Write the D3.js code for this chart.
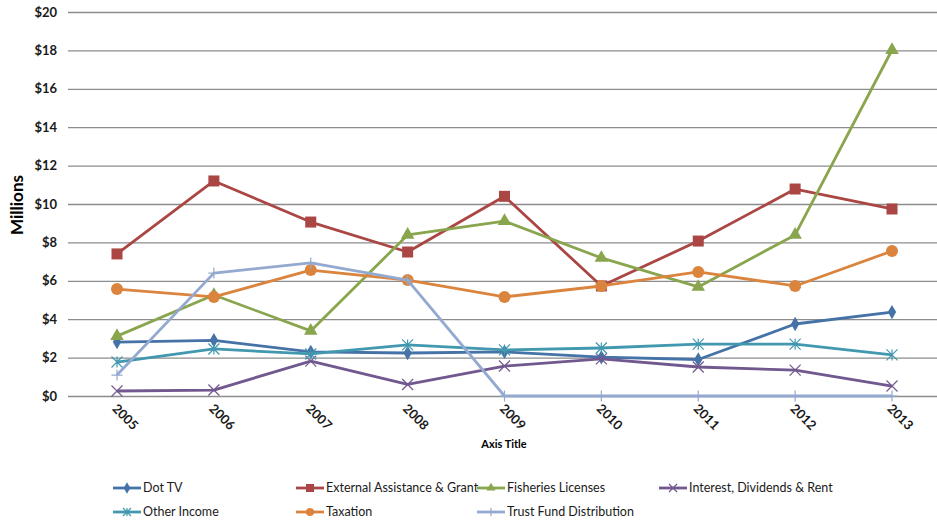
<!DOCTYPE html>
<html>
<head>
<meta charset="utf-8">
<script src="https://cdn.jsdelivr.net/npm/d3@7"></script>
<style>
  body { margin: 0; background: #fff; }
  svg { display: block; font-family: Lato, "Open Sans", sans-serif; }
</style>
</head>
<body>
<div class="content"></div>
<script>
const years = ['2005', '2006', '2007', '2008', '2009', '2010', '2011', '2012', '2013'];
const yTicks = [0, 2, 4, 6, 8, 10, 12, 14, 16, 18, 20];

const dotTV      = [2.81, 2.90, 2.30, 2.24, 2.30, 2.02, 1.90, 3.75, 4.37];
const external   = [7.40, 11.20, 9.06, 7.50, 10.40, 5.73, 8.07, 10.78, 9.74];
const fisheries  = [3.12, 5.26, 3.39, 8.39, 9.11, 7.19, 5.68, 8.39, 18.02];
const interest   = [0.26, 0.31, 1.82, 0.60, 1.56, 1.93, 1.51, 1.35, 0.52];
const otherInc   = [1.77, 2.45, 2.19, 2.66, 2.40, 2.50, 2.70, 2.70, 2.14];
const taxation   = [5.57, 5.16, 6.56, 6.04, 5.16, 5.73, 6.46, 5.73, 7.55];
const trustFund  = [1.09, 6.40, 6.93, 6.04, 0, 0, 0, 0, 0];

const seriesNames = ['Dot TV', 'External Assistance & Grant', 'Fisheries Licenses',
  'Interest, Dividends & Rent', 'Other Income', 'Taxation', 'Trust Fund Distribution'];
const seriesValues = [dotTV, external, fisheries, interest, otherInc, taxation, trustFund];
const colors = ['#4572A7', '#AA4643', '#89A54E', '#71588F', '#4198AF', '#DB843D', '#93A9CF'];
const markers = ['diamond', 'square', 'triangle', 'x', 'asterisk', 'circle', 'plus'];

const width = 937, height = 522;
const svg = d3.select('div.content').append('svg')
  .attr('width', width).attr('height', height);

const x = d3.scalePoint().domain(years).range([117, 892]);
const y = d3.scaleLinear().domain([0, 20]).range([396, 12]);

// gridlines
svg.append('g')
  .selectAll('line')
  .data(yTicks)
  .enter()
  .append('line')
  .attr('x1', 68).attr('x2', width)
  .attr('y1', d => y(d) + 0.5).attr('y2', d => y(d) + 0.5)
  .attr('stroke', '#8c8c8c').attr('stroke-width', 1.3);

// y axis labels
const yAxis = d3.axisLeft(y).tickValues(yTicks).tickSize(0).tickPadding(0)
  .tickFormat(d => '$' + d);
svg.append('g')
  .attr('transform', 'translate(57,0)')
  .call(yAxis)
  .call(g => g.select('.domain').remove())
  .selectAll('text')
  .attr('font-family', 'Lato, sans-serif')
  .attr('font-size', 13).attr('font-weight', 'bold').attr('fill', '#1a1a1a');

// x axis labels
const xAxis = d3.axisBottom(x).tickSize(0).tickPadding(0);
svg.append('g')
  .attr('transform', 'translate(0,409)')
  .call(xAxis)
  .call(g => g.select('.domain').remove())
  .selectAll('text')
  .attr('font-family', 'Lato, sans-serif')
  .attr('font-size', 13).attr('font-weight', 'bold').attr('fill', '#1a1a1a')
  .attr('text-anchor', 'start').attr('dy', '0.35em')
  .attr('transform', 'rotate(45) translate(-4,0)');

svg.append('text')
  .attr('x', 504).attr('y', 448)
  .attr('text-anchor', 'middle')
  .attr('font-size', 11).attr('font-weight', 'bold')
  .text('Axis Title');

svg.append('text')
  .attr('transform', 'translate(23,205) rotate(-90)')
  .attr('text-anchor', 'middle')
  .attr('font-size', 17).attr('font-weight', 'bold')
  .text('Millions');

const drawMarker = (g, type, color, s) => {
  if (type === 'diamond') {
    g.append('path').attr('d', d3.symbol(d3.symbolDiamond, s * s * 0.6)())
      .attr('fill', color);
  } else if (type === 'square') {
    g.append('rect').attr('x', -s / 2).attr('y', -s / 2)
      .attr('width', s).attr('height', s).attr('fill', color);
  } else if (type === 'triangle') {
    g.append('path').attr('d', d3.symbol(d3.symbolTriangle, s * s * 0.55)())
      .attr('fill', color);
  } else if (type === 'circle') {
    g.append('circle').attr('r', s / 2).attr('fill', color);
  } else if (type === 'x') {
    const h = s / 2;
    g.append('path').attr('d', `M${-h},${-h}L${h},${h}M${-h},${h}L${h},${-h}`)
      .attr('stroke', color).attr('stroke-width', 1.2).attr('fill', 'none');
  } else if (type === 'asterisk') {
    const h = s / 2;
    g.append('path').attr('d', `M${-h},${-h}L${h},${h}M${-h},${h}L${h},${-h}M0,${-h}L0,${h}`)
      .attr('stroke', color).attr('stroke-width', 1.2).attr('fill', 'none');
  } else if (type === 'plus') {
    const h = s / 2;
    g.append('path').attr('d', `M${-h},0L${h},0M0,${-h}L0,${h}`)
      .attr('stroke', color).attr('stroke-width', 1.2).attr('fill', 'none');
  }
};

const markerSize = [10, 11, 12, 11, 11, 12, 11];

const line = d3.line().x((d, i) => x(years[i])).y(d => y(d));

seriesValues.forEach((vals, si) => {
  const g = svg.append('g');
  g.append('path')
    .datum(vals)
    .attr('d', line)
    .attr('fill', 'none')
    .attr('stroke', colors[si])
    .attr('stroke-width', 2.8)
    .attr('stroke-linejoin', 'round');
  vals.forEach((v, i) => {
    const m = g.append('g').attr('transform', `translate(${x(years[i])},${y(v)})`);
    drawMarker(m, markers[si], colors[si], markerSize[si]);
  });
});

// legend
const legendCols = [113, 296, 477, 659];
const legendRows = [488, 512];
seriesNames.forEach((name, i) => {
  const col = i < 4 ? i : i - 4;
  const row = i < 4 ? 0 : 1;
  const lx = legendCols[col === 2 && row === 1 ? 2 : col], ly = legendRows[row];
  const g = svg.append('g').attr('transform', `translate(${lx},${ly})`);
  g.append('line').attr('x1', 0).attr('x2', 28).attr('y1', 0).attr('y2', 0)
    .attr('stroke', colors[i]).attr('stroke-width', 2.8);
  const m = g.append('g').attr('transform', 'translate(14,0)');
  drawMarker(m, markers[i], colors[i], 8);
  g.append('text').attr('x', 30).attr('y', 0).attr('dy', '0.35em')
    .attr('font-size', 12.5).attr('fill', '#1a1a1a')
    .text(name);
});
</script>
</body>
</html>
